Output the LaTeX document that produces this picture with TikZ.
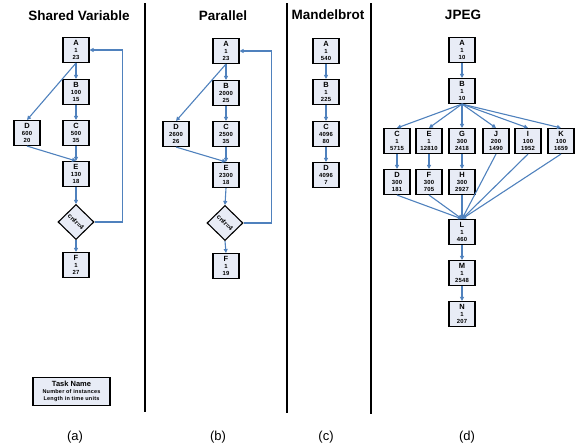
\documentclass[tikz,border=0pt]{standalone}
\usepackage{fontspec}
\setmainfont{Liberation Sans}
\newfontfamily\spacedfont[LetterSpace=4]{Liberation Sans}
\usetikzlibrary{shapes.geometric,arrows.meta}
\definecolor{edgeblue}{RGB}{79,129,189}
\definecolor{boxfill}{RGB}{232,236,246}
\newcommand{\tsk}[3]{{\fontspec{Liberation Sans}\fontsize{7.5}{7.5}\selectfont\bfseries #1}\\[0.3pt]#2\\#3}
\tikzset{
  taskbox/.style={draw=black, line width=1.1pt, fill=boxfill, minimum width=26pt, minimum height=25pt,
    inner sep=0pt, align=center, font=\spacedfont\fontsize{5.9}{7}\selectfont\bfseries},
  decision/.style={diamond, draw=black, line width=1.1pt, fill=boxfill, minimum width=36pt, minimum height=35pt,
    inner sep=0pt, font=\fontsize{6.5}{6.5}\selectfont\bfseries},
  arr/.style={draw=edgeblue, line width=1.1pt, -{Triangle[length=4pt,width=4pt]}},
  title/.style={font=\fontsize{13.5}{14}\selectfont\bfseries},
  sub/.style={font=\fontsize{13}{13}\selectfont},
  sep/.style={line width=1.4pt, black}
}
\begin{document}
\begin{tikzpicture}[x=1pt,y=-1pt]
\useasboundingbox (0,0) rectangle (578,447);
% separators
\draw[sep] (145,3) -- (145,412);
\draw[sep] (287,3) -- (287,413);
\draw[sep] (371,3) -- (371,414);
% titles
\node[title] (t1) at (79,16) {Shared Variable};
\node[title] (t2) at (223,16) {Parallel};
\node[title] (t3) at (328,15) {Mandelbrot};
\node[title] (t4) at (463,15) {JPEG};
% sub labels
\node[sub] (la) at (75,437) {(a)};
\node[sub] (lb) at (218,437) {(b)};
\node[sub] (lc) at (326,437) {(c)};
\node[sub] (ld) at (467,437) {(d)};
% (a) Shared Variable
\node[taskbox] (aA) at (76,50) {\tsk{A}{1}{23}};
\node[taskbox] (aB) at (76,92) {\tsk{B}{100}{15}};
\node[taskbox] (aC) at (76,133) {\tsk{C}{500}{35}};
\node[taskbox] (aD) at (27,133) {\tsk{D}{600}{20}};
\node[taskbox] (aE) at (76,174) {\tsk{E}{130}{18}};
\node[decision] (aX) at (76,222) {\rotatebox{-45}{cntr=4}};
\node[taskbox] (aF) at (76,265) {\tsk{F}{1}{27}};
\draw[arr] (aA.south) -- (aB.north);
\draw[arr] (aA.south) -- (aD.north);
\draw[arr] (aB.south) -- (aC.north);
\draw[arr] (aC.south) -- (aE.north);
\draw[arr] (aD.south) -- (aE.north);
\draw[arr] (aE.south) -- (aX.north);
\draw[arr] (aX.south) -- (aF.north);
\draw[arr] (aX.east) -- ++(28,0) |- (aA.east);
% (b) Parallel
\node[taskbox] (bA) at (226,51) {\tsk{A}{1}{23}};
\node[taskbox] (bB) at (226,93) {\tsk{B}{2000}{25}};
\node[taskbox] (bC) at (226,134) {\tsk{C}{2500}{35}};
\node[taskbox] (bD) at (176,134) {\tsk{D}{2600}{26}};
\node[taskbox] (bE) at (226,175) {\tsk{E}{2300}{18}};
\node[decision] (bX) at (225,223) {\rotatebox{-45}{cntr=4}};
\node[taskbox] (bF) at (226,266) {\tsk{F}{1}{19}};
\draw[arr] (bA.south) -- (bB.north);
\draw[arr] (bA.south) -- (bD.north);
\draw[arr] (bB.south) -- (bC.north);
\draw[arr] (bC.south) -- (bE.north);
\draw[arr] (bD.south) -- (bE.north);
\draw[arr] (bE.south) -- (bX.north);
\draw[arr] (bX.south) -- (bF.north);
\draw[arr] (bX.east) -- ++(28,0) |- (bA.east);
% (c) Mandelbrot
\node[taskbox] (cA) at (326,51) {\tsk{A}{1}{540}};
\node[taskbox] (cB) at (326,92) {\tsk{B}{1}{225}};
\node[taskbox] (cC) at (326,134) {\tsk{C}{4096}{80}};
\node[taskbox] (cD) at (326,175) {\tsk{D}{4096}{7}};
\draw[arr] (cA.south) -- (cB.north);
\draw[arr] (cB.south) -- (cC.north);
\draw[arr] (cC.south) -- (cD.north);
% (d) JPEG
\node[taskbox] (dA) at (462,50) {\tsk{A}{1}{10}};
\node[taskbox] (dB) at (462,91) {\tsk{B}{1}{10}};
\node[taskbox] (dC) at (397,141) {\tsk{C}{1}{5715}};
\node[taskbox] (dE) at (429,141) {\tsk{E}{1}{12810}};
\node[taskbox] (dG) at (462,141) {\tsk{G}{300}{2418}};
\node[taskbox] (dJ) at (496,141) {\tsk{J}{200}{1490}};
\node[taskbox] (dI) at (528,141) {\tsk{I}{100}{1952}};
\node[taskbox] (dK) at (561,141) {\tsk{K}{100}{1659}};
\node[taskbox] (dD) at (397,182) {\tsk{D}{300}{181}};
\node[taskbox] (dF) at (429,182) {\tsk{F}{300}{705}};
\node[taskbox] (dH) at (462,182) {\tsk{H}{300}{2927}};
\node[taskbox] (dL) at (462,232) {\tsk{L}{1}{460}};
\node[taskbox] (dM) at (462,273) {\tsk{M}{1}{2548}};
\node[taskbox] (dN) at (462,314) {\tsk{N}{1}{207}};
\draw[arr] (dA.south) -- (dB.north);
\foreach \t in {C,E,G,J,I,K} \draw[arr] (dB.south) -- (d\t.north);
\draw[arr] (dC.south) -- (dD.north);
\draw[arr] (dE.south) -- (dF.north);
\draw[arr] (dG.south) -- (dH.north);
\foreach \t in {D,F,H,J,I,K} \draw[arr] (d\t.south) -- (dL.north);
\draw[arr] (dL.south) -- (dM.north);
\draw[arr] (dM.south) -- (dN.north);
% legend
\node[taskbox, minimum width=77pt, minimum height=28pt, font=\spacedfont\fontsize{5.5}{6.5}\selectfont\bfseries] (leg) at (71.5,391.5)
  {{\fontspec{Liberation Sans}\fontsize{7.5}{7.5}\selectfont\bfseries Task Name}\\[0.5pt]Number of instances\\Length in time units};
\end{tikzpicture}
\end{document}
